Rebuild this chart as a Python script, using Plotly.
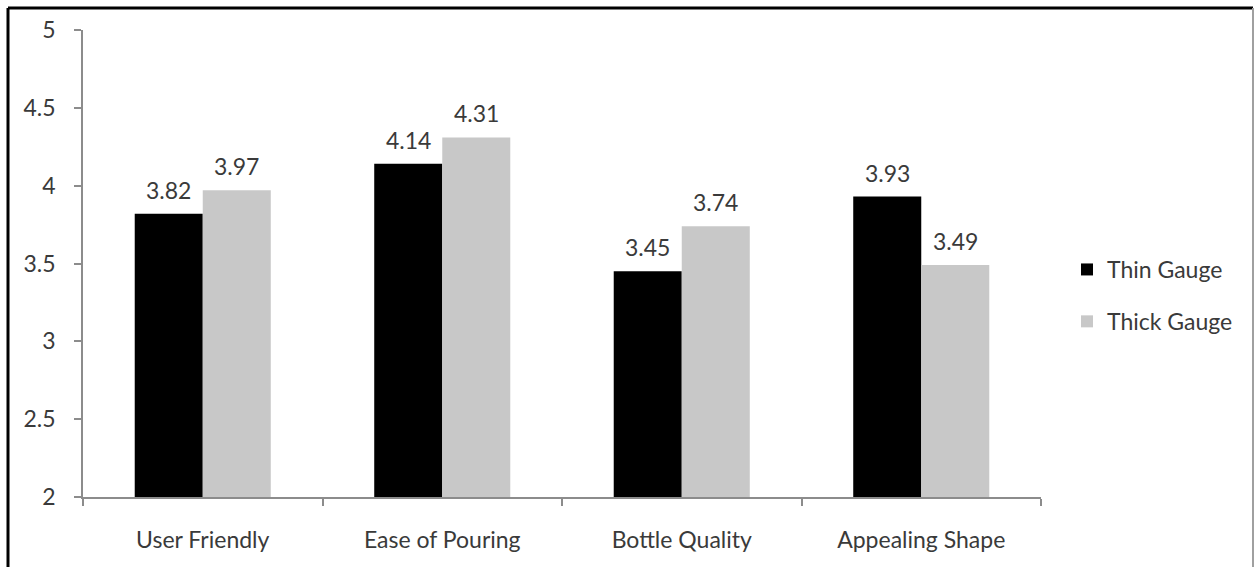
import plotly.graph_objects as go

categories = ["User Friendly", "Ease of Pouring", "Bottle Quality", "Appealing Shape"]
thin_gauge = [3.82, 4.14, 3.45, 3.93]
thick_gauge = [3.97, 4.31, 3.74, 3.49]
y_ticks = [2, 2.5, 3, 3.5, 4, 4.5, 5]
y_tick_labels = ["2", "2.5", "3", "3.5", "4", "4.5", "5"]

FONT = "Lato, Carlito, Calibri, sans-serif"
TEXT_COLOR = "#3a3a3a"
AXIS_COLOR = "#8c8c8c"
FS = 23

W, H = 1255, 567
ML, MR, MT, MB = 83, 214, 30, 70
pw, ph = W - ML - MR, H - MT - MB

fig = go.Figure()
fig.add_trace(go.Bar(name="Thin Gauge", x=categories, y=thin_gauge,
                     marker=dict(color="#000000", line=dict(width=0)),
                     legendgroup="thin"))
fig.add_trace(go.Bar(name="Thick Gauge", x=categories, y=thick_gauge,
                     marker=dict(color="#c8c8c8", line=dict(width=0)),
                     legendgroup="thick"))

# value labels above each bar
gap = 0.432
bar_px = pw / len(categories) * (1 - gap) / 2
for series, shift in ((thin_gauge, -bar_px / 2), (thick_gauge, bar_px / 2)):
    for cat, val in zip(categories, series):
        fig.add_annotation(x=cat, y=val, text=f"{val:.2f}", showarrow=False,
                           xshift=shift, yshift=8, yanchor="bottom",
                           font=dict(family=FONT, size=FS, color=TEXT_COLOR))

# outer frame
def px_x(v):
    return (v - ML) / pw

def px_y(v):
    return (H - MB - v) / ph

fig.add_shape(type="line", xref="paper", yref="paper",
              x0=px_x(8), x1=px_x(8), y0=px_y(8), y1=px_y(600),
              line=dict(color="#000000", width=3))
fig.add_shape(type="line", xref="paper", yref="paper",
              x0=px_x(8), x1=px_x(1253), y0=px_y(8), y1=px_y(8),
              line=dict(color="#000000", width=3))
fig.add_shape(type="line", xref="paper", yref="paper",
              x0=px_x(1253), x1=px_x(1253), y0=px_y(8), y1=px_y(600),
              line=dict(color="#a0a0a0", width=2))

fig.update_layout(
    width=W, height=H,
    margin=dict(l=ML, r=MR, t=MT, b=MB, autoexpand=False),
    paper_bgcolor="white", plot_bgcolor="white",
    barmode="group", bargap=gap, bargroupgap=0,
    font=dict(family=FONT, size=FS, color=TEXT_COLOR),
    showlegend=True,
    legend=dict(x=px_x(1067), y=px_y(248), xanchor="left", yanchor="top",
                font=dict(family=FONT, size=FS, color=TEXT_COLOR),
                itemwidth=30, tracegroupgap=19, bgcolor="rgba(0,0,0,0)"),
    xaxis=dict(showline=True, linecolor=AXIS_COLOR, linewidth=1.5,
               ticks="outside", tickson="boundaries", ticklen=7,
               tickcolor=AXIS_COLOR, tickwidth=1.5,
               ticklabelstandoff=22, tickfont=dict(size=FS),
               showgrid=False, zeroline=False),
    yaxis=dict(range=[2, 5], tickvals=y_ticks, ticktext=y_tick_labels,
               showline=True, linecolor=AXIS_COLOR, linewidth=1.5,
               ticks="outside", ticklen=7, tickcolor=AXIS_COLOR, tickwidth=1.5,
               ticklabelstandoff=14, tickfont=dict(size=FS),
               showgrid=False, zeroline=False),
)

fig.write_html("out.html")
